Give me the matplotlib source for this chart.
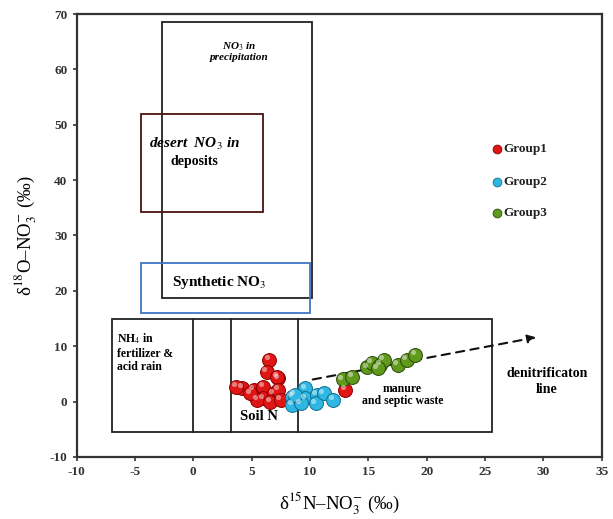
import numpy as np
import matplotlib
matplotlib.use('Agg')
import matplotlib.pyplot as plt
from matplotlib.patches import Rectangle
from matplotlib.transforms import ScaledTranslation

plt.rcParams['font.family'] = ['Liberation Serif', 'DejaVu Serif']
plt.rcParams['mathtext.fontset'] = 'stix'
plt.rcParams['axes.unicode_minus'] = False

# sample values (d15N, d18O)
g1_n = [6.5, 6.3, 7.3, 7.2, 4.2, 5.2, 6.0, 6.0, 6.9, 7.3, 5.5, 6.6, 7.5, 3.7, 4.9, 13.0]
g1_o = [7.6, 5.4, 4.2, 4.5, 2.5, 2.1, 2.7, 0.6, 1.5, 2.1, 0.3, 0.0, 0.3, 2.7, 1.5, 2.1]
g2_n = [8.5, 8.5, 9.6, 9.6, 10.6, 10.5, 11.2, 12.0, 9.2, 8.7]
g2_o = [0.9, -0.6, 2.4, 0.6, 1.2, -0.3, 1.5, 0.3, -0.3, 1.2]
g3_n = [12.8, 13.6, 14.9, 15.3, 16.0, 16.3, 15.8, 17.5, 18.3, 19.0]
g3_o = [4.0, 4.5, 6.2, 7.0, 6.7, 7.6, 6.0, 6.7, 7.6, 8.5]

groups = ['Group1', 'Group2', 'Group3']
colors = ['#e01515', '#2fb6e2', '#5f9a1c']
edges = ['#8a0000', '#10708f', '#2a4a06']

# source boxes: (x0, x1, y0, y1)
box_precip = (-2.7, 10.2, 18.8, 68.5)
box_desert = (-4.5, 6.0, 34.2, 51.9)
box_synth = (-4.5, 10.0, 16.0, 25.1)
box_bottom = (-7.0, 25.6, -5.5, 15.0)
dividers = [0.0, 3.2, 9.0]

denit_start = (10.0, 3.9)
denit_end = (29.6, 11.7)

fig = plt.figure(figsize=(6.13, 5.19), dpi=100)
ax = fig.add_axes([0.1248, 0.1195, 0.857, 0.8535])
ax.set_xlim(-10, 35)
ax.set_ylim(-10, 70)
ax.set_xticks(np.arange(-10, 36, 5))
ax.set_yticks(np.arange(-10, 71, 10))
for s in ax.spines.values():
    s.set_linewidth(1.6)
    s.set_color('#333333')
ax.tick_params(direction='out', length=3, width=1.2, labelsize=9.5, colors='#333333')
for lab in ax.get_xticklabels() + ax.get_yticklabels():
    lab.set_fontweight('bold')


def draw_box(b, color, lw=1.3):
    ax.add_patch(Rectangle((b[0], b[2]), b[1] - b[0], b[3] - b[2],
                           fill=False, edgecolor=color, linewidth=lw, zorder=2))


draw_box(box_precip, '#222222')
draw_box(box_desert, '#4a1410')
draw_box(box_synth, '#3f74c4')
draw_box(box_bottom, '#222222')
for d in dividers:
    ax.plot([d, d], [box_bottom[2], box_bottom[3]], color='#222222', lw=1.3, zorder=2)

ax.annotate('', xy=denit_end, xytext=denit_start,
            arrowprops=dict(arrowstyle='-|>', linestyle=(0, (4, 3)), lw=1.5,
                            color='#111111', mutation_scale=12), zorder=3)

hl = ScaledTranslation(-1.8 / 72, 1.8 / 72, fig.dpi_scale_trans)
for xs, ys, c, e in zip([g1_n, g2_n, g3_n], [g1_o, g2_o, g3_o], colors, edges):
    ax.scatter(xs, ys, s=100, c=c, edgecolors=e, linewidths=0.7, zorder=4)
    ax.scatter(xs, ys, s=14, c='white', alpha=0.45, linewidths=0,
               transform=ax.transData + hl, zorder=5)

# legend
leg_x = 26.0
leg_y = [45.7, 39.7, 34.1]
for g, c, e, y in zip(groups, colors, edges, leg_y):
    ax.scatter([leg_x], [y], s=40, c=c, edgecolors=e, linewidths=0.6, zorder=4)
    ax.text(leg_x + 0.6, y, g, fontsize=9.5, fontweight='bold', va='center', color='#222222')

ax.text(3.9, 63.3, 'NO$_3$ in\nprecipitation', fontsize=8, fontweight='bold',
        style='italic', ha='center', va='center', linespacing=1.0)
ax.text(0.1, 46.5, 'desert  NO$_3$ in', fontsize=11, fontweight='bold',
        style='italic', ha='center', va='center')
ax.text(0.1, 43.3, 'deposits', fontsize=10, fontweight='bold', ha='center', va='center')
ax.text(2.2, 21.5, 'Synthetic NO$_3$', fontsize=11, fontweight='bold', ha='center', va='center')
ax.text(-6.5, 12.6, 'NH$_4$ in\nfertilizer &\nacid rain', fontsize=8.5, fontweight='bold',
        ha='left', va='top', linespacing=1.15)
ax.text(5.6, -2.6, 'Soil N', fontsize=10.5, fontweight='bold', ha='center', va='center')
ax.text(17.9, 1.2, 'manure\nand septic waste', fontsize=8.5, fontweight='bold',
        ha='center', va='center', linespacing=1.0)
ax.text(30.3, 3.6, 'denitrificaton\nline', fontsize=10, fontweight='bold',
        ha='center', va='center', linespacing=1.3)

ax.set_xlabel('δ$^{15}$N–NO$_3^{-}$ (‰)', fontsize=13.5, labelpad=9)
ax.set_ylabel('δ$^{18}$O–NO$_3^{-}$ (‰)', fontsize=13.5, labelpad=8)

fig.savefig('out.png', dpi=100)
